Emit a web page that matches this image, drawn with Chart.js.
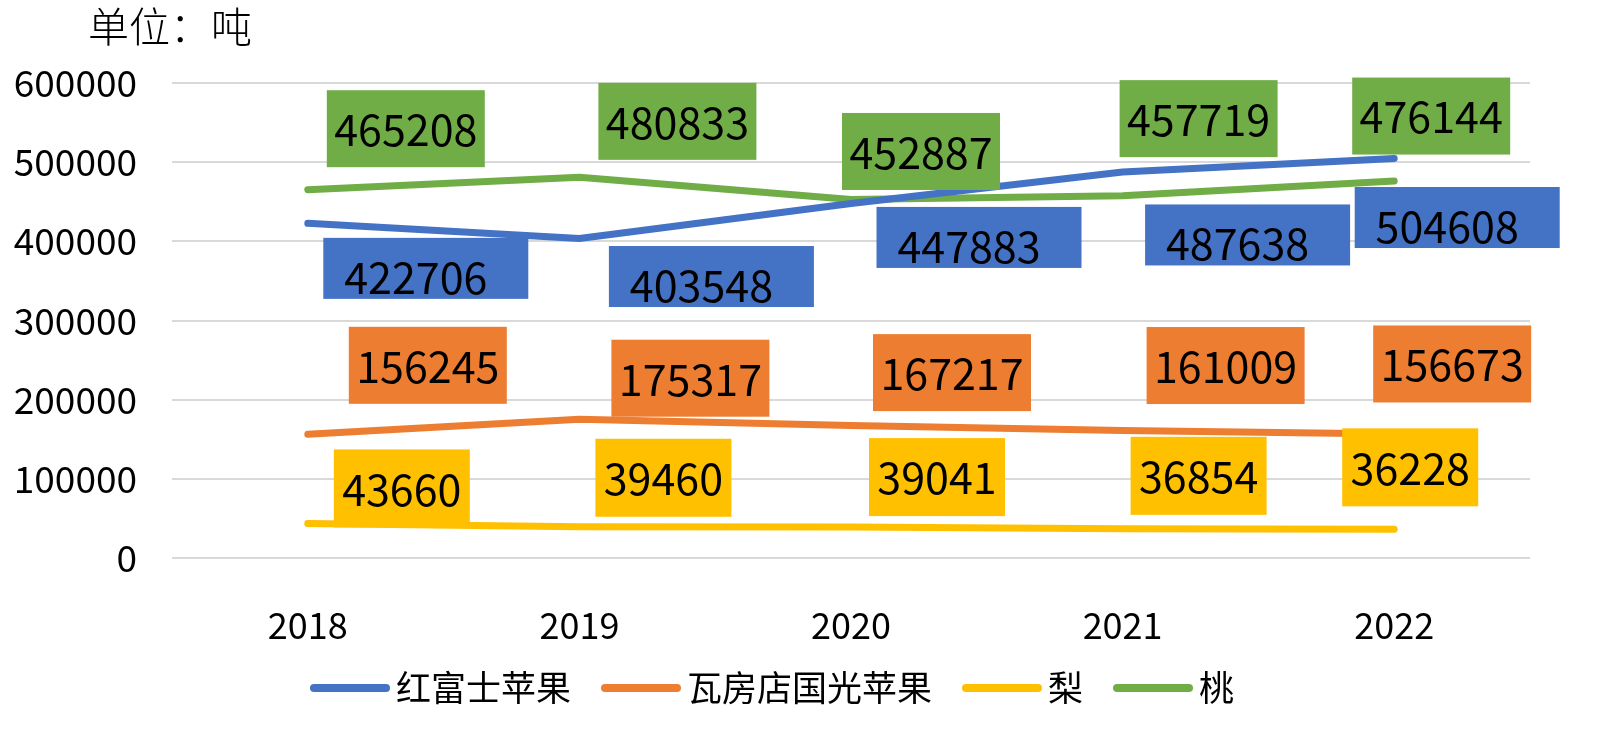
<!DOCTYPE html>
<html>
<head>
<meta charset="utf-8">
<script src="https://cdn.jsdelivr.net/npm/chart.js@4.4.1/dist/chart.umd.min.js"></script>
<style>
	html, body { margin: 0; padding: 0; background: #fff; }
	#wrap { width: 1600px; height: 731px; position: relative; }
</style>
</head>
<body>
<div id="wrap"><canvas id="mychart"></canvas></div>
<script>
var years = ['2018', '2019', '2020', '2021', '2022'];
var hongfushi = [422706, 403548, 447883, 487638, 504608];
var guoguang = [156245, 175317, 167217, 161009, 156673];
var li = [43660, 39460, 39041, 36854, 36228];
var tao = [465208, 480833, 452887, 457719, 476144];
var yTicks = [0, 100000, 200000, 300000, 400000, 500000, 600000];
var seriesNames = ['红富士苹果', '瓦房店国光苹果', '梨', '桃'];

// label box placement (pixels, relative to each point) and box sizes per series
var labelStyle = [
	{ w: 205, h: 61, tx: -10, ty: 9, off: [[118, 45], [132, 38], [128, 34], [125, 63], [63, 59]] },
	{ w: 158, h: 77, tx: 0, ty: 1, off: [[120, -69], [111, -41], [101, -53], [103, -65], [58, -70]] },
	{ w: 136, h: 78, tx: 0, ty: 1, off: [[94, -35], [84, -49], [86, -50], [76, -53], [16, -62]] },
	{ w: 158, h: 77, tx: 0, ty: 1, off: [[98, -61], [98, -56], [70, -48], [76, -77], [37, -65]] }
];
var colors = ['#4472C4', '#ED7D31', '#FFC000', '#70AD47'];
var fontName = '"Noto Sans CJK SC", "Noto Sans", sans-serif';

var boxLabels = {
	id: 'boxLabels',
	afterDatasetsDraw: function (chart) {
		var ctx = chart.ctx;
		ctx.save();
		ctx.font = '43px ' + fontName;
		ctx.textAlign = 'center';
		ctx.textBaseline = 'middle';
		chart.data.datasets.forEach(function (ds, i) {
			var meta = chart.getDatasetMeta(i);
			var st = labelStyle[i];
			meta.data.forEach(function (pt, j) {
				var cx = pt.x + st.off[j][0];
				var cy = pt.y + st.off[j][1];
				ctx.fillStyle = ds.borderColor;
				ctx.fillRect(cx - st.w / 2, cy - st.h / 2, st.w, st.h);
				ctx.fillStyle = '#000';
				ctx.fillText(String(ds.data[j]), cx + st.tx, cy + st.ty);
			});
		});
		ctx.restore();
	}
};

var extras = {
	id: 'extras',
	afterDraw: function (chart) {
		var ctx = chart.ctx;
		ctx.save();
		// unit title
		ctx.fillStyle = '#000';
		ctx.font = '300 41px ' + fontName;
		ctx.textAlign = 'left';
		ctx.textBaseline = 'middle';
		ctx.fillText('单位：吨', 88, 26);
		// legend
		ctx.font = '35px ' + fontName;
		var x = 310, y = 688;
		chart.data.datasets.forEach(function (ds) {
			ctx.strokeStyle = ds.borderColor;
			ctx.lineWidth = 8;
			ctx.lineCap = 'round';
			ctx.beginPath();
			ctx.moveTo(x + 4, y);
			ctx.lineTo(x + 76, y);
			ctx.stroke();
			ctx.fillStyle = '#000';
			ctx.fillText(ds.label, x + 86, y);
			x += 86 + ctx.measureText(ds.label).width + 30;
		});
		ctx.restore();
	}
};

var allSeries = [hongfushi, guoguang, li, tao];
var datasets = allSeries.map(function (arr, i) {
	return {
		label: seriesNames[i],
		data: arr,
		borderColor: colors[i],
		backgroundColor: colors[i],
		borderWidth: 7,
		borderCapStyle: 'round',
		borderJoinStyle: 'round',
		pointRadius: 0,
		tension: 0,
		fill: false
	};
});

var ctx = document.getElementById('mychart').getContext('2d');
var myChart = new Chart(ctx, {
	type: 'line',
	data: { labels: years, datasets: datasets },
	options: {
		responsive: true,
		maintainAspectRatio: false,
		animation: false,
		layout: { padding: { top: 83, right: 70, left: 0, bottom: 0 } },
		plugins: { legend: { display: false }, tooltip: { enabled: false } },
		scales: {
			x: {
				offset: true,
				grid: { display: false, drawTicks: false },
				border: { display: false },
				ticks: { color: '#000', padding: 46, font: { family: fontName, size: 36 } },
				afterFit: function (scale) { scale.height = 173; }
			},
			y: {
				min: yTicks[0],
				max: yTicks[yTicks.length - 1],
				afterBuildTicks: function (scale) {
					scale.ticks = yTicks.map(function (v) { return { value: v }; });
				},
				grid: { color: '#D9D9D9', lineWidth: 2, drawTicks: false },
				border: { display: false },
				ticks: {
					color: '#000',
					padding: 35,
					font: { family: fontName, size: 37 },
					callback: function (v) { return String(v); }
				},
				afterFit: function (scale) { scale.width = 172; }
			}
		}
	},
	plugins: [boxLabels, extras]
});
</script>
</body>
</html>
